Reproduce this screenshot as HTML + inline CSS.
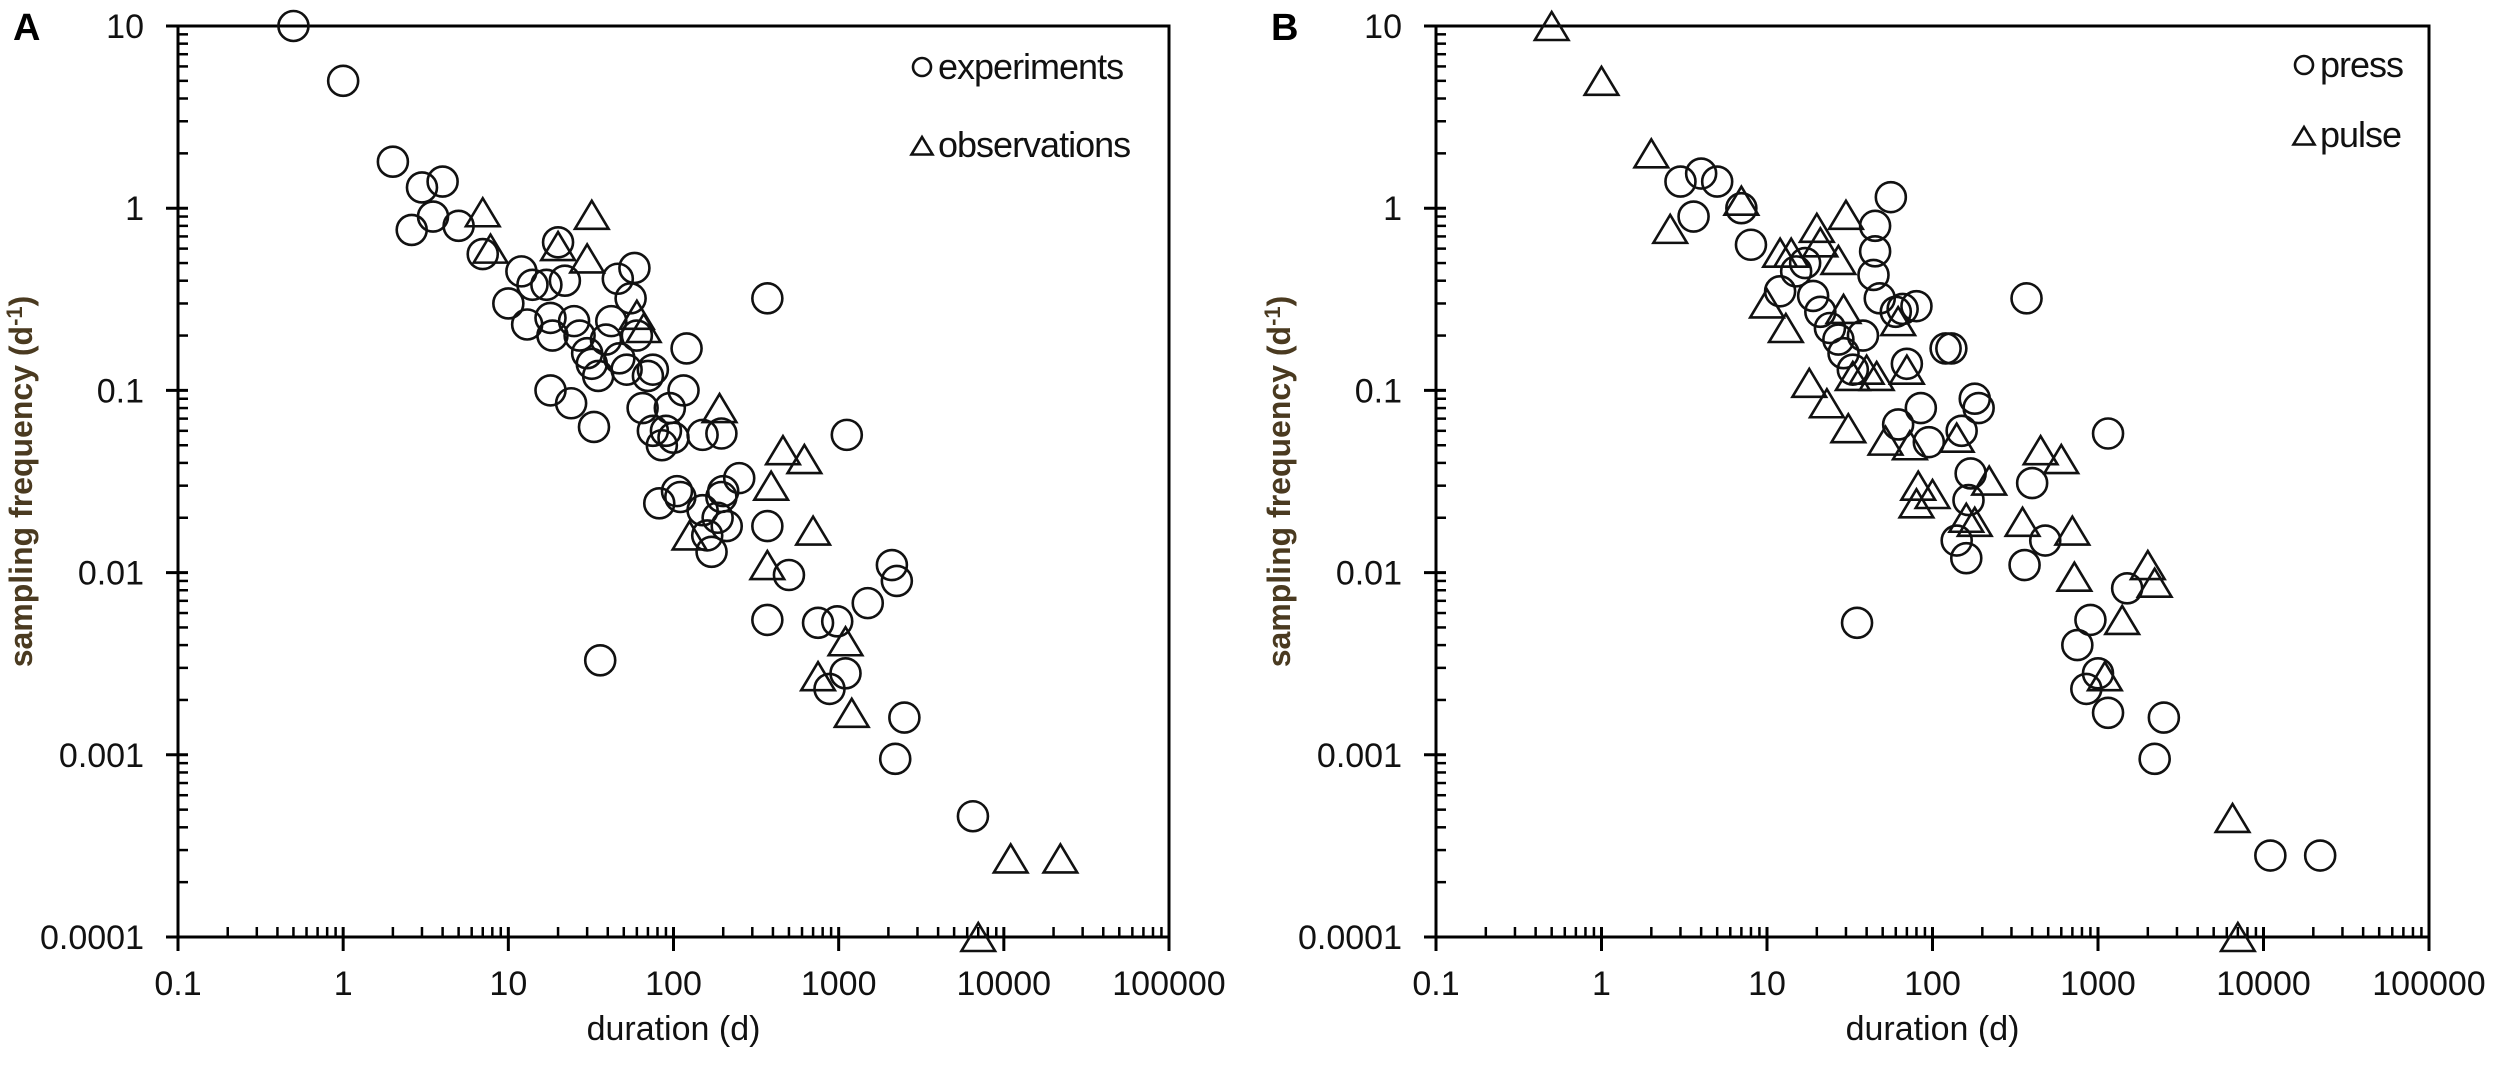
<!DOCTYPE html>
<html><head><meta charset="utf-8"><style>
html,body{margin:0;padding:0;background:#fff;}
svg{display:block;font-family:"Liberation Sans",Arial,sans-serif;}
</style></head><body>
<svg id="fig" width="2500" height="1067" viewBox="0 0 2500 1067" xmlns="http://www.w3.org/2000/svg"></svg>
<script>
// Panel A data
const aExpDur = [0.5,1,2,3,4,2.6,3.5,5,7,10,12,14,13,17,18,20,18.5,18,22,24,25,27,30,32,33,35,39,42,46,47,52,55,58,60,70,75,65,75,85,95,100,90,120,115,82,105,110,150,150,160,170,185,195,200,210,195,250,370,370,500,370,36,750,980,880,1100,1120,1500,2100,2250,2500,2200,6500];
const aExpFreq = [10,5,1.8,1.3,1.4,0.76,0.9,0.8,0.56,0.3,0.45,0.38,0.23,0.38,0.25,0.65,0.2,0.1,0.4,0.085,0.24,0.2,0.16,0.14,0.063,0.12,0.19,0.24,0.41,0.15,0.13,0.32,0.47,0.2,0.12,0.13,0.08,0.06,0.05,0.08,0.055,0.06,0.17,0.1,0.024,0.028,0.026,0.057,0.022,0.016,0.013,0.02,0.026,0.028,0.018,0.058,0.033,0.32,0.018,0.0097,0.0055,0.0033,0.0053,0.0054,0.0023,0.0028,0.057,0.0068,0.011,0.009,0.0016,0.00095,0.00046];
const aObsDur = [7,7.8,20,32,30,60,66,190,460,620,390,700,370,125,1100,750,1200,11000,22000,7000];
const aObsFreq = [0.95,0.6,0.62,0.92,0.53,0.26,0.22,0.08,0.047,0.042,0.03,0.017,0.011,0.016,0.0042,0.0027,0.0017,0.00027,0.00027,0.0001];
// Panel B data
const bPulseDur = [0.5,1,2,2.6,7,10,12,13,14,18,20,21,23,27,30,31,29,33,40,46,52,62,70,73,82,80,100,140,160,180,220,350,450,600,700,720,1100,1400,2000,2200,6500,7000];
const bPulseFreq = [10,5,2,0.77,1.1,0.3,0.57,0.22,0.57,0.11,0.78,0.65,0.085,0.52,0.92,0.062,0.28,0.12,0.13,0.12,0.053,0.24,0.13,0.05,0.03,0.024,0.027,0.055,0.02,0.019,0.032,0.019,0.047,0.042,0.017,0.0095,0.0027,0.0055,0.011,0.0088,0.00045,0.0001];
const bPressDur = [3,4,5,3.6,7,8,12,15,17,19,21,24,27,29,33,38,45,45,44,48,56,60,66,80,70,62,85,95,120,130,150,140,160,180,190,170,165,370,400,360,480,35,1150,1500,900,750,850,1000,1150,2500,2200,11000,22000];
const bPressFreq = [1.4,1.55,1.4,0.9,1.0,0.63,0.35,0.45,0.5,0.33,0.27,0.22,0.19,0.16,0.13,0.2,0.8,0.58,0.43,0.32,1.15,0.27,0.28,0.29,0.14,0.065,0.08,0.052,0.17,0.17,0.06,0.015,0.012,0.09,0.08,0.035,0.025,0.32,0.031,0.011,0.015,0.0053,0.058,0.0082,0.0055,0.004,0.0023,0.0028,0.0017,0.0016,0.00095,0.00028,0.00028];
const xTickLabels = ["0.1","1","10","100","1000","10000","100000"];
const yTickLabels = ["10","1","0.1","0.01","0.001","0.0001"];

const NS = "http://www.w3.org/2000/svg";
const svg = document.getElementById("fig");
function mk(tag, attrs, parent){
  const e = document.createElementNS(NS, tag);
  for (const k in attrs) e.setAttribute(k, attrs[k]);
  (parent||svg).appendChild(e);
  return e;
}
const Y0 = 26, Y1 = 937;
function drawPanel(x0, x1, letter, s1Dur, s1Freq, s1Name, s2Dur, s2Freq, s2Name, legendX, legY1, legY2, circleFirst){
  const g = mk("g", {});
  
  
  const xs = v => x0 + (Math.log10(v) + 1) / 6 * (x1 - x0);
  const ys = v => Y0 + (1 - Math.log10(v)) / 5 * (Y1 - Y0);
  const L = mk("text", {x: x0 - 165, y: 40, "font-size": 38, "font-weight": "bold"}, g);
  L.textContent = letter;
  
  
  const frame = mk("rect", {x: x0, y: Y0, width: x1 - x0, height: Y1 - Y0, fill: "none", stroke: "#000", "stroke-width": 3}, g);
  
  
  for (let d = 0; d <= 6; d++) {
    const X = x0 + d / 6 * (x1 - x0);
    mk("line", {x1: X, y1: Y1 - 10, x2: X, y2: Y1 + 14, stroke: "#000", "stroke-width": 3}, g);
    const t = mk("text", {x: X, y: Y1 + 58, "font-size": 34, "text-anchor": "middle", fill: "#111"}, g);
    t.textContent = xTickLabels[d];
    
    
    if (d < 6) for (let m = 2; m <= 9; m++) {
      const xm = X + Math.log10(m) / 6 * (x1 - x0);
      mk("line", {x1: xm, y1: Y1, x2: xm, y2: Y1 - 10, stroke: "#000", "stroke-width": 2.5}, g);
    }
  }
  for (let d = 0; d <= 5; d++) {
    const Y = Y0 + d / 5 * (Y1 - Y0);
    mk("line", {x1: x0 - 12, y1: Y, x2: x0 + 10, y2: Y, stroke: "#000", "stroke-width": 3}, g);
    const t = mk("text", {x: x0 - 34, y: Y + 12, "font-size": 34, "text-anchor": "end", fill: "#111"}, g);
    t.textContent = yTickLabels[d];
    
    
    if (d < 5) for (let m = 2; m <= 9; m++) {
      const ym = Y + (Y1 - Y0) / 5 - Math.log10(m) / 5 * (Y1 - Y0);
      mk("line", {x1: x0, y1: ym, x2: x0 + 10, y2: ym, stroke: "#000", "stroke-width": 2.5}, g);
    }
  }
  const xt = mk("text", {x: (x0 + x1) / 2, y: 1040, "font-size": 34, "text-anchor": "middle", fill: "#111"}, g);
  xt.textContent = "duration (d)";
  
  
  const yt = mk("text", {x: 0, y: 0, "font-size": 32, "font-weight": "bold", "text-anchor": "middle", fill: "#4a3a20", transform: `translate(${x0 - 146},${(Y0 + Y1) / 2}) rotate(-90)`}, g);
  yt.innerHTML = 'sampling frequency (d<tspan dy="-10" font-size="22">-1</tspan><tspan dy="10">)</tspan>';
  
  
  const circ = (cx, cy, r, sw, par) => mk("circle", {cx, cy, r, fill: "none", stroke: "#111", "stroke-width": sw}, par);
  const tri = (cx, cy, s, sw, par) => mk("polygon", {points: `${cx},${cy - s} ${cx - s * 1.05},${cy + s * 0.75} ${cx + s * 1.05},${cy + s * 0.75}`, fill: "none", stroke: "#111", "stroke-width": sw, "stroke-linejoin": "miter"}, par);
  const series = [[s1Dur, s1Freq, s1Name, circleFirst], [s2Dur, s2Freq, s2Name, !circleFirst]];
  series.forEach(([dur, fr, name, isCirc]) => {
    const sg = mk("g", {}, g);
    
    
    for (let i = 0; i < dur.length; i++) {
      const el = isCirc ? circ(xs(dur[i]), ys(fr[i]), 15, 2.6, sg) : tri(xs(dur[i]), ys(fr[i]) + 2, 16, 2.6, sg);
      
      
    }
  });
  const lg = mk("g", {}, g);
  
  
  const e1 = circ(legendX, legY1, 9, 2.6, lg);
  
  
  const t1 = mk("text", {x: legendX + 16, y: legY1 + 12, "font-size": 36, fill: "#111", "letter-spacing": "-1"}, lg);
  t1.textContent = s1Name;
  
  
  const e2 = tri(legendX, legY2 + 2, 10, 2.6, lg);
  
  
  const t2 = mk("text", {x: legendX + 16, y: legY2 + 12, "font-size": 36, fill: "#111", "letter-spacing": "-1"}, lg);
  t2.textContent = s2Name;
  
  
}
drawPanel(178, 1169, "A", aExpDur, aExpFreq, "experiments", aObsDur, aObsFreq, "observations", 922, 67, 145, true);
drawPanel(1436, 2429, "B", bPressDur, bPressFreq, "press", bPulseDur, bPulseFreq, "pulse", 2304, 65, 135, true);
</script>
</body></html>
